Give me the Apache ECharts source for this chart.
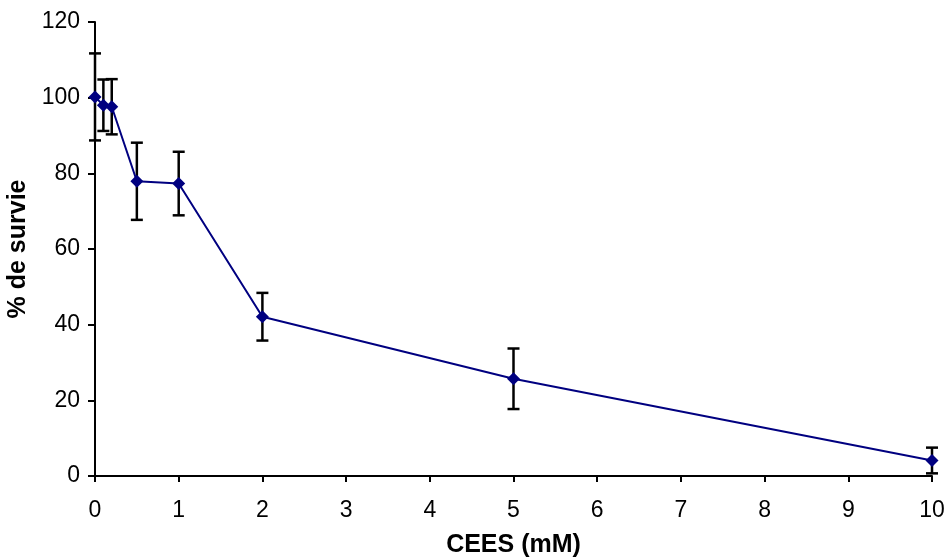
<!DOCTYPE html>
<html>
<head>
<meta charset="utf-8">
<script src="https://cdn.jsdelivr.net/npm/echarts@6/dist/echarts.min.js"></script>
<style>
  html, body { margin: 0; padding: 0; background: #fff; }
  #chart { width: 951px; height: 559px; }
</style>
</head>
<body>
<div id="chart"></div>
<script>
// CEES concentration (mM) vs % survival
const concentrations = [0, 0.1, 0.2, 0.5, 1, 2, 5, 10]
const survival = [100.2, 98.0, 97.6, 77.9, 77.3, 42.1, 25.7, 4.1]
const errors = [11.5, 6.8, 7.3, 10.2, 8.4, 6.3, 8.0, 3.4]

const chart = echarts.init(document.getElementById('chart'))

const points = concentrations.map((x, i) => [x, survival[i]])
const errorData = concentrations.map((x, i) => [x, survival[i] - errors[i], survival[i] + errors[i]])

const font = 'Liberation Sans, Arial, sans-serif'

chart.setOption({
  animation: false,
  grid: {
    left: 95,
    right: 19,
    top: 22,
    bottom: 83,
    containLabel: false,
    outerBoundsMode: 'none'
  },
  xAxis: {
    type: 'value',
    min: 0,
    max: 10,
    interval: 1,
    name: 'CEES (mM)',
    nameLocation: 'middle',
    nameGap: 57,
    nameTextStyle: { fontFamily: font, fontSize: 25, fontWeight: 'bold', color: '#000' },
    axisLine: { onZero: false, lineStyle: { color: '#000', width: 2 } },
    axisTick: { show: true, length: 6, lineStyle: { color: '#000', width: 2 } },
    axisLabel: { fontFamily: font, fontSize: 23, color: '#000', margin: 23 },
    splitLine: { show: false }
  },
  yAxis: {
    type: 'value',
    min: 0,
    max: 120,
    interval: 20,
    name: '% de survie',
    nameLocation: 'middle',
    nameGap: 64,
    nameTextStyle: { fontFamily: font, fontSize: 25, fontWeight: 'bold', color: '#000' },
    axisLine: { show: true, lineStyle: { color: '#000', width: 2 } },
    axisTick: { show: true, length: 7, lineStyle: { color: '#000', width: 2 } },
    axisLabel: { fontFamily: font, fontSize: 23, color: '#000', margin: 15 },
    splitLine: { show: false }
  },
  series: [{
    type: 'custom',
    z: 1,
    data: errorData,
    renderItem(params, api) {
      const x = api.value(0)
      const lo = api.coord([x, api.value(1)])
      const hi = api.coord([x, api.value(2)])
      const half = 6
      const style = { stroke: '#000', lineWidth: 2.5 }
      return {
        type: 'group',
        children: [
          { type: 'line', shape: { x1: lo[0], y1: lo[1], x2: hi[0], y2: hi[1] }, style },
          { type: 'line', shape: { x1: lo[0] - half, y1: lo[1], x2: lo[0] + half, y2: lo[1] }, style },
          { type: 'line', shape: { x1: hi[0] - half, y1: hi[1], x2: hi[0] + half, y2: hi[1] }, style }
        ]
      }
    }
  }, {
    type: 'line',
    z: 2,
    data: points,
    symbol: 'diamond',
    symbolSize: 13,
    lineStyle: { color: '#000080', width: 2 },
    itemStyle: { color: '#000080' }
  }]
})
</script>
</body>
</html>
